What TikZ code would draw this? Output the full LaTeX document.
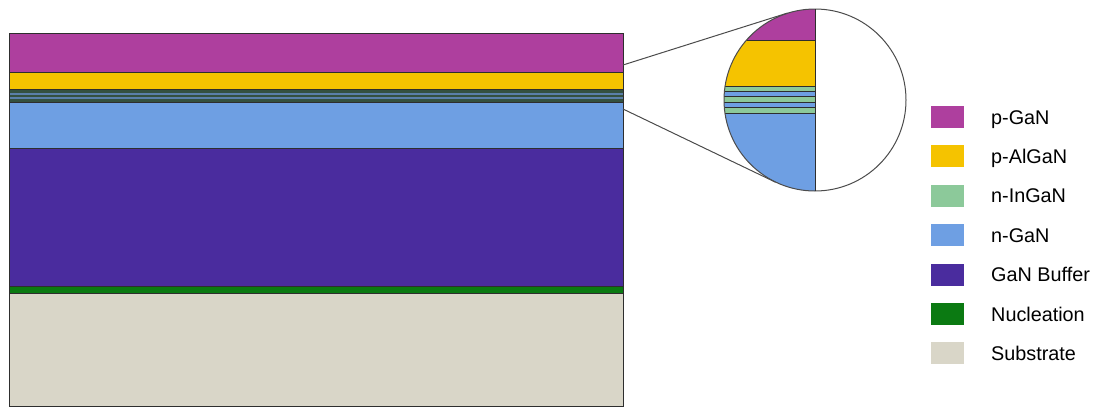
\documentclass[tikz,border=0pt]{standalone}
\usepackage{fontspec}
\newfontfamily\lab{Liberation Sans}
\usetikzlibrary{calc}
\definecolor{pgan}{HTML}{AE3F9E}
\definecolor{palgan}{HTML}{F5C300}
\definecolor{ningan}{HTML}{8CC99A}
\definecolor{ngan}{HTML}{6E9FE3}
\definecolor{buffer}{HTML}{4A2C9E}
\definecolor{nucl}{HTML}{0B7A12}
\definecolor{subs}{HTML}{D9D6C8}
\definecolor{mqw}{HTML}{34503F}
\definecolor{mqwb}{HTML}{5A7FA8}
\definecolor{edge}{HTML}{2E2E2E}
\begin{document}
\begin{tikzpicture}[x=1pt,y=-1pt,
  layer/.style={draw=edge,line width=0.8pt},
  swatch/.style={minimum width=33pt,minimum height=22pt,inner sep=0pt,draw=none},
  leg/.style={anchor=base west,inner sep=0pt,font=\lab\fontsize{19.8}{22}\selectfont},
  zoomline/.style={draw=black!70,line width=1pt}]
\useasboundingbox (0,0) rectangle (1093,408);
% main stack
\fill[pgan] (9,33) rectangle (623,72);
\fill[palgan] (9,72) rectangle (623,89);
\fill[mqw] (9,89) rectangle (623,102);
\fill[mqwb] (9,92.5) rectangle (623,94.5);
\fill[mqwb] (9,97) rectangle (623,99);
\fill[ngan] (9,102) rectangle (623,148);
\fill[buffer] (9,148) rectangle (623,286);
\fill[nucl] (9,286) rectangle (623,293);
\fill[subs] (9,293) rectangle (623,406);
\foreach \y in {72,89,102,148,286,293}{\draw[layer] (9,\y) -- (623,\y);}
\draw[draw=edge,line width=0.8pt] (9,33) rectangle (623,406);
\coordinate (up) at (623,65);
\coordinate (lo) at (623,109);
% magnifier
\node[circle,minimum size=182pt,inner sep=0pt] (mag) at (815,100) {};
\begin{scope}
\clip (815,100) circle [radius=91pt];
\fill[pgan] (720,5) rectangle (815,40);
\fill[palgan] (720,40) rectangle (815,86);
\fill[ningan] (720,86) rectangle (815,91);
\fill[ngan] (720,91) rectangle (815,96.5);
\fill[ningan] (720,96.5) rectangle (815,102);
\fill[ngan] (720,102) rectangle (815,107.5);
\fill[ningan] (720,107.5) rectangle (815,113.5);
\fill[ngan] (720,113.5) rectangle (815,195);
\foreach \y in {40,86,91,96.5,102,107.5,113.5}{\draw[layer] (720,\y) -- (815,\y);}
\end{scope}
\draw[zoomline] (mag.center) circle [radius=91pt];
\draw[draw=edge,line width=0.9pt] (mag.north) -- (mag.south);
\draw[zoomline] (up) -- (tangent cs:node=mag,point={(up)},solution=2);
\draw[zoomline] (lo) -- (tangent cs:node=mag,point={(lo)},solution=1);
% legend
\foreach \c/\t [count=\i from 0] in {pgan/p-GaN,palgan/p-AlGaN,ningan/n-InGaN,ngan/n-GaN,buffer/GaN Buffer,nucl/Nucleation,subs/Substrate}{
  \node[swatch,fill=\c] (sw\i) at (947,117+39.4*\i) {};
  \node[leg] (lb\i) at ($(sw\i.center)+(44,7)$) {\t};
}
\end{tikzpicture}
\end{document}
